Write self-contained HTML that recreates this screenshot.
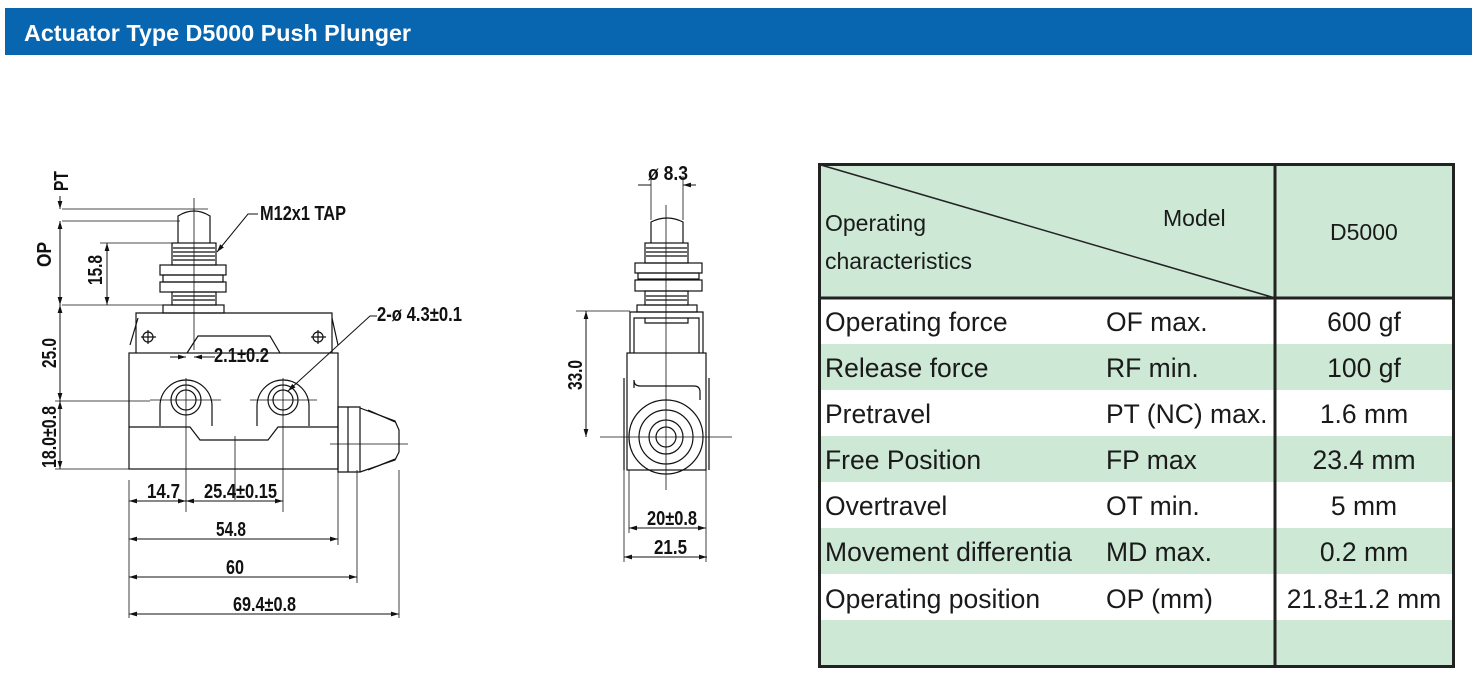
<!DOCTYPE html>
<html><head><meta charset="utf-8"><style>
html,body{margin:0;padding:0;background:#fff;}
svg{display:block;}
.d{font-family:"Liberation Sans",sans-serif;font-weight:bold;font-size:20px;fill:#111;}
.t{font-family:"Liberation Sans",sans-serif;font-size:26.5px;fill:#1a1a1a;}
.h{font-family:"Liberation Sans",sans-serif;font-size:23px;fill:#1a1a1a;}
</style></head><body>
<svg width="1472" height="683" viewBox="0 0 1472 683" xmlns="http://www.w3.org/2000/svg">
<defs>
<marker id="a" viewBox="0 0 10 10" refX="10" refY="5" markerWidth="8" markerHeight="8" orient="auto-start-reverse"><path d="M0,2 L10,5 L0,8 z" fill="#111"/></marker>
</defs>
<rect x="5" y="8" width="1467" height="47" fill="#0865b0"/>
<text x="24" y="41" font-family="Liberation Sans,sans-serif" font-weight="bold" font-size="23" fill="#fff" textLength="387" lengthAdjust="spacingAndGlyphs">Actuator Type D5000 Push Plunger</text>

<g stroke="#111" stroke-width="1.2" fill="none">
<path d="M178,243 L178,216 Q194,206 210,216 L210,243"/>
<rect x="172" y="243" width="44" height="22"/>
<path d="M173,248h42M173,252h42M173,256h42M173,260h42"/>
<rect x="160" y="265" width="66" height="10"/>
<rect x="163" y="275" width="60" height="7"/>
<rect x="160" y="282" width="66" height="10"/>
<rect x="172" y="292" width="44" height="13"/>
<path d="M173,296h42M173,300h42"/>
<rect x="163" y="305" width="61" height="8"/>
<path d="M136,353 L136,313 L332,313 L332,353"/>
<path d="M130,345 L138,318 M332,318 L338,345"/>
<path d="M187,353 L198,336 L270,336 L280,353"/>
<circle cx="148" cy="337" r="5"/><circle cx="318" cy="337" r="5"/>
<path d="M141,337h15M311,337h15M148,330v14M318,330v14"/>
<rect x="129" y="353" width="209" height="116"/>
<path d="M129,427 L190,427 L200,440 L268,440 L278,427 L338,427"/>
<path d="M160,426 v-20 a26,26 0 0 1 52,0 v20M257,426 v-20 a26,26 0 0 1 52,0 v20"/>
<circle cx="186" cy="400" r="15"/><circle cx="186" cy="400" r="10"/>
<circle cx="283" cy="400" r="15"/><circle cx="283" cy="400" r="10"/>
<path d="M338,407 L360,407 L360,472 L338,472 z M348,407 v65"/>
<path d="M360,408 L395,421 L399,430 L399,452 L395,460 L360,472"/>
<path d="M368,410 L395,422 M368,470 L395,459"/>
</g>
<g stroke="#111" stroke-width="0.8" fill="none">
<path d="M194,198 V350 M186,378 V512 M283,378 V512 M235,436 V500 M150,400 H221 M250,400 H317 M330,444 H408"/>
<path d="M62,209 H208 M62,221 H180 M62,305 H164 M100,243 H172 M55,401 H150 M55,469 H129"/>
<path d="M129,480 V618 M338,456 V545 M357,470 V583 M399,470 V618"/>
</g>
<g stroke="#111" stroke-width="1" fill="none" marker-start="url(#a)" marker-end="url(#a)">
<line x1="60" y1="221" x2="60" y2="305"/>
<line x1="60" y1="305" x2="60" y2="401"/>
<line x1="60" y1="401" x2="60" y2="469"/>
<line x1="107" y1="243" x2="107" y2="305"/>
<line x1="129" y1="501" x2="186" y2="501"/>
<line x1="186" y1="501" x2="283" y2="501"/>
<line x1="129" y1="539" x2="338" y2="539"/>
<line x1="129" y1="577" x2="357" y2="577"/>
<line x1="129" y1="614" x2="399" y2="614"/>
</g>
<g stroke="#111" stroke-width="1" fill="none">
<path d="M60,196 V209" marker-end="url(#a)"/>
<path d="M170,357 H186" marker-end="url(#a)"/><path d="M215,357 H194" marker-end="url(#a)"/>
<path d="M258,214 L248,214 L217,252" marker-end="url(#a)"/>
<path d="M377,316 L370,316 L288,391" marker-end="url(#a)"/>
</g>
<text class="d" x="260" y="220" textLength="86" lengthAdjust="spacingAndGlyphs">M12x1 TAP</text>
<text class="d" x="377" y="321" textLength="85" lengthAdjust="spacingAndGlyphs">2-ø 4.3±0.1</text>
<text class="d" x="214" y="362" textLength="55" lengthAdjust="spacingAndGlyphs">2.1±0.2</text>
<text class="d" x="147" y="498" textLength="33" lengthAdjust="spacingAndGlyphs">14.7</text>
<text class="d" x="204" y="498" textLength="73" lengthAdjust="spacingAndGlyphs">25.4±0.15</text>
<text class="d" x="216" y="536" textLength="30" lengthAdjust="spacingAndGlyphs">54.8</text>
<text class="d" x="226" y="574" textLength="18" lengthAdjust="spacingAndGlyphs">60</text>
<text class="d" x="233" y="611" textLength="63" lengthAdjust="spacingAndGlyphs">69.4±0.8</text>
<text class="d" transform="translate(68,191) rotate(-90)" textLength="20" lengthAdjust="spacingAndGlyphs">PT</text>
<text class="d" transform="translate(51,267) rotate(-90)" textLength="25" lengthAdjust="spacingAndGlyphs">OP</text>
<text class="d" transform="translate(102,285) rotate(-90)" textLength="30" lengthAdjust="spacingAndGlyphs">15.8</text>
<text class="d" transform="translate(56,368) rotate(-90)" textLength="30" lengthAdjust="spacingAndGlyphs">25.0</text>
<text class="d" transform="translate(56,468) rotate(-90)" textLength="62" lengthAdjust="spacingAndGlyphs">18.0±0.8</text>

<!-- RIGHT DRAWING -->
<g stroke="#111" stroke-width="1.2" fill="none">
<path d="M651,243 L651,222 Q667,214 683,222 L683,243"/>
<rect x="645" y="243" width="43" height="20"/>
<path d="M646,248h41M646,252h41M646,256h41"/>
<rect x="635" y="263" width="67" height="10"/>
<rect x="638" y="273" width="61" height="6"/>
<rect x="635" y="280" width="67" height="11"/>
<rect x="645" y="291" width="43" height="14"/>
<path d="M646,296h41M646,300h41"/>
<rect x="637" y="305" width="60" height="7"/>
<path d="M630,353 V312 H703 V353 M634,353 V318 H699 V353 M645,318 V323 H688 V318"/>
<rect x="627" y="353" width="79" height="117"/>
<path d="M634,388 V380 Q634,386 640,386 H694 Q700,386 700,392 V400"/>
<path d="M624,378 V470 M709,378 V470"/>
<circle cx="666" cy="437" r="37"/><circle cx="666" cy="437" r="27"/>
<circle cx="666" cy="437" r="17"/><circle cx="666" cy="437" r="10"/>
</g>
<g stroke="#111" stroke-width="0.8" fill="none">
<path d="M666,205 V490 M600,437 H732 M576,311 H630 M651,176 V220 M683,176 V220 M629,470 V533 M706,470 V562 M624,470 V562"/>
</g>
<g stroke="#111" stroke-width="1" fill="none" marker-start="url(#a)" marker-end="url(#a)">
<line x1="586" y1="311" x2="586" y2="437"/>
<line x1="629" y1="528" x2="706" y2="528"/>
<line x1="624" y1="557" x2="707" y2="557"/>
</g>
<path d="M638,185 H651 M696,185 H683" stroke="#111" stroke-width="1" marker-end="url(#a)"/>
<text class="d" x="648" y="180" textLength="40" lengthAdjust="spacingAndGlyphs">ø 8.3</text>
<text class="d" x="647" y="525" textLength="50" lengthAdjust="spacingAndGlyphs">20±0.8</text>
<text class="d" x="654" y="554" textLength="33" lengthAdjust="spacingAndGlyphs">21.5</text>
<text class="d" transform="translate(582,390) rotate(-90)" textLength="30" lengthAdjust="spacingAndGlyphs">33.0</text>

<!-- TABLE -->
<rect x="819" y="163" width="634" height="135" fill="#cde8d4"/>
<rect x="819" y="344" width="634" height="46" fill="#cde8d4"/>
<rect x="819" y="436" width="634" height="46" fill="#cde8d4"/>
<rect x="819" y="528" width="634" height="46" fill="#cde8d4"/>
<rect x="819" y="620" width="634" height="47" fill="#cde8d4"/>
<g stroke="#222" fill="none">
<line x1="821" y1="165" x2="1275" y2="298" stroke-width="1.5"/>
<rect x="819.5" y="164.5" width="634" height="502" stroke-width="3"/>
<line x1="1275" y1="163" x2="1275" y2="667" stroke-width="3"/>
<line x1="819" y1="298" x2="1453" y2="298" stroke-width="3"/>
</g>
<text class="h" x="825" y="231">Operating</text>
<text class="h" x="825" y="269">characteristics</text>
<text class="h" x="1163" y="226">Model</text>
<text class="h" x="1330" y="240">D5000</text>
<g class="t">
<text x="825" y="331">Operating force</text><text x="1106" y="331">OF max.</text><text x="1364" y="331" text-anchor="middle">600 gf</text>
<text x="825" y="377">Release force</text><text x="1106" y="377">RF min.</text><text x="1364" y="377" text-anchor="middle">100 gf</text>
<text x="825" y="423">Pretravel</text><text x="1106" y="423">PT (NC) max.</text><text x="1364" y="423" text-anchor="middle">1.6 mm</text>
<text x="825" y="469">Free Position</text><text x="1106" y="469">FP max</text><text x="1364" y="469" text-anchor="middle">23.4 mm</text>
<text x="825" y="515">Overtravel</text><text x="1106" y="515">OT min.</text><text x="1364" y="515" text-anchor="middle">5 mm</text>
<text x="825" y="561">Movement differentia</text><text x="1106" y="561">MD max.</text><text x="1364" y="561" text-anchor="middle">0.2 mm</text>
<text x="825" y="608">Operating position</text><text x="1106" y="608">OP (mm)</text><text x="1364" y="608" text-anchor="middle">21.8±1.2 mm</text>
</g>
</svg>
</body></html>
